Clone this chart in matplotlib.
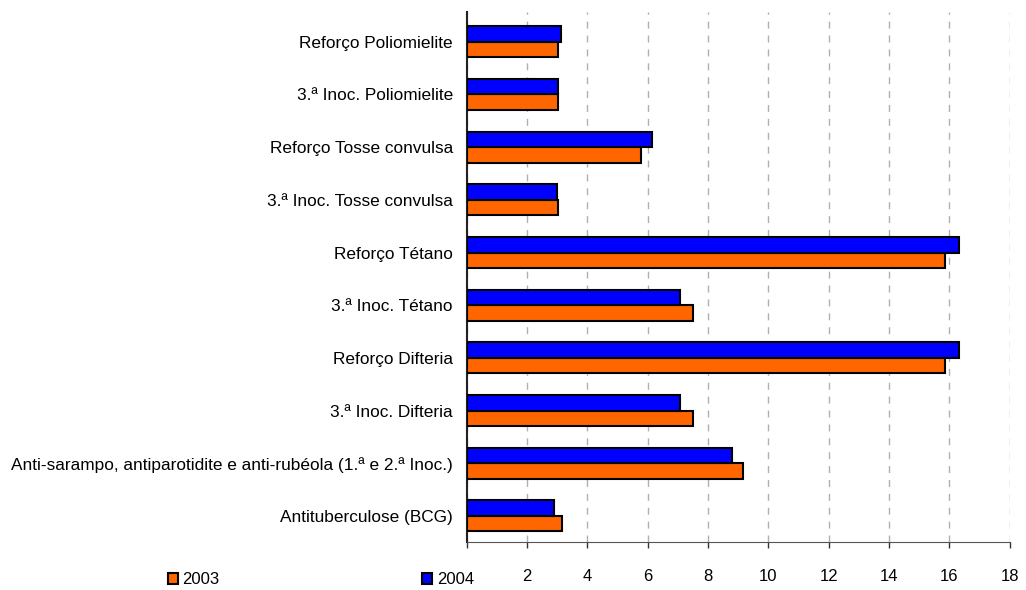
import numpy as np
import matplotlib
matplotlib.use("Agg")
import matplotlib.pyplot as plt

plt.rcParams['font.family'] = ['Liberation Sans', 'DejaVu Sans']

# categories, bottom to top
categories = ['Antituberculose (BCG)',
              'Anti-sarampo, antiparotidite e anti-rubéola (1.ª e 2.ª Inoc.)',
              '3.ª Inoc. Difteria',
              'Reforço Difteria',
              '3.ª Inoc. Tétano',
              'Reforço Tétano',
              '3.ª Inoc. Tosse convulsa',
              'Reforço Tosse convulsa',
              '3.ª Inoc. Poliomielite',
              'Reforço Poliomielite']
values2003 = [3.15, 9.16, 7.51, 15.86, 7.51, 15.86, 3.04, 5.79, 3.03, 3.03]
values2004 = [2.89, 8.79, 7.08, 16.33, 7.08, 16.33, 3.00, 6.13, 3.03, 3.11]
xticks = [0, 2, 4, 6, 8, 10, 12, 14, 16, 18]
xticklabels = ['', '2', '4', '6', '8', '10', '12', '14', '16', '18']

fig = plt.figure(figsize=(10.26, 5.9), dpi=100)
ax = fig.add_axes([0.455, 0.081, 0.529, 0.899])

y = np.arange(len(categories))
h = 0.295
ax.barh(y - h / 2, values2003, height=h, color='#FF6600', edgecolor='black', linewidth=1.5, label='2003', zorder=3)
ax.barh(y + h / 2, values2004, height=h, color='#0000FF', edgecolor='black', linewidth=1.5, label='2004', zorder=3)

ax.set_xlim(0, 18)
ax.set_ylim(-0.5, 9.57)
ax.set_xticks(xticks)
ax.set_xticklabels(xticklabels, fontsize=12)
ax.set_yticks(y)
ax.set_yticklabels(categories, fontsize=12.4)
ax.tick_params(axis='y', length=0, pad=10)
ax.tick_params(axis='x', length=4, width=1, pad=15, color='#333333')

ax.xaxis.grid(True, color='#B0B0B0', linestyle=(0, (5, 5)), linewidth=1, zorder=0)
for s in ['top', 'right']:
    ax.spines[s].set_visible(False)
ax.spines['left'].set_linewidth(1.5)
ax.spines['left'].set_color('#222222')
ax.spines['bottom'].set_color('#555555')

fig.legend(loc='lower left', bbox_to_anchor=(0.149, -0.021), ncol=2, frameon=False, fontsize=12,
           handlelength=0.6, handleheight=0.6, handletextpad=0.25, columnspacing=12.2)

fig.savefig('out.png', dpi=100)
